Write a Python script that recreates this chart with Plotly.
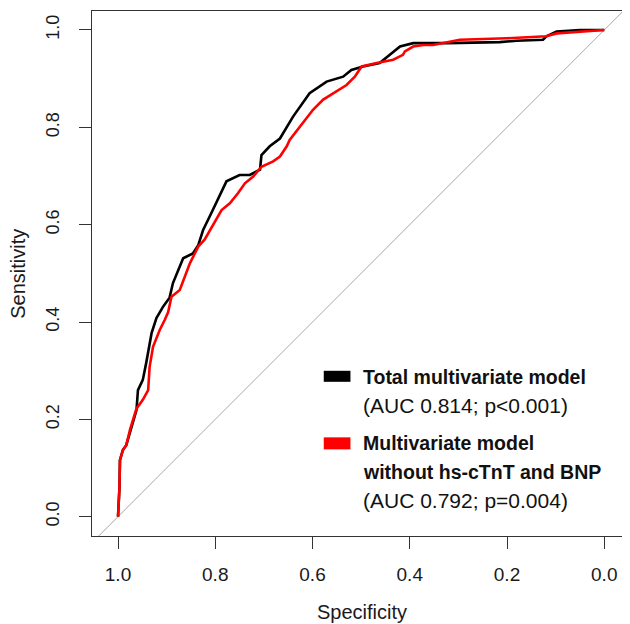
import plotly.graph_objects as go

# ROC curve data (specificity, sensitivity)
total_spec = [1.0, 0.997, 0.996, 0.990, 0.983, 0.975, 0.962, 0.959, 0.949, 0.942,
              0.931, 0.921, 0.907, 0.894, 0.887, 0.866, 0.846, 0.835, 0.825, 0.808,
              0.791, 0.777, 0.750, 0.729, 0.708, 0.705, 0.688, 0.667, 0.640, 0.606,
              0.571, 0.537, 0.520, 0.496, 0.462, 0.441, 0.420, 0.393, 0.324, 0.215,
              0.180, 0.126, 0.119, 0.098, 0.050, 0.0]
total_sens = [0.0, 0.060, 0.116, 0.137, 0.147, 0.175, 0.219, 0.260, 0.281, 0.316,
              0.377, 0.408, 0.432, 0.450, 0.480, 0.531, 0.541, 0.558, 0.589, 0.624,
              0.658, 0.689, 0.702, 0.702, 0.713, 0.743, 0.761, 0.777, 0.822, 0.870,
              0.894, 0.904, 0.918, 0.925, 0.932, 0.949, 0.966, 0.973, 0.973, 0.975,
              0.978, 0.980, 0.987, 0.997, 1.0, 1.0]

reduced_spec = [1.0, 0.997, 0.996, 0.990, 0.983, 0.975, 0.962, 0.955, 0.949, 0.938,
                0.935, 0.928, 0.914, 0.904, 0.897, 0.890, 0.873, 0.852, 0.835, 0.822,
                0.805, 0.787, 0.770, 0.753, 0.739, 0.722, 0.705, 0.681, 0.667, 0.653,
                0.647, 0.626, 0.599, 0.578, 0.551, 0.530, 0.513, 0.499, 0.468, 0.434,
                0.414, 0.410, 0.393, 0.372, 0.352, 0.317, 0.297, 0.201, 0.119, 0.098,
                0.050, 0.0]
reduced_sens = [0.0, 0.060, 0.116, 0.137, 0.147, 0.180, 0.222, 0.232, 0.240, 0.260,
                0.308, 0.349, 0.384, 0.404, 0.420, 0.452, 0.466, 0.521, 0.555, 0.569,
                0.600, 0.630, 0.644, 0.665, 0.685, 0.699, 0.719, 0.730, 0.740, 0.761,
                0.774, 0.802, 0.836, 0.857, 0.874, 0.887, 0.904, 0.925, 0.932, 0.939,
                0.949, 0.956, 0.966, 0.969, 0.969, 0.976, 0.980, 0.983, 0.987, 0.993,
                0.997, 1.0]

chance_x = [1.2, -0.2]
chance_y = [-0.2, 1.2]

tick_vals = [0.0, 0.2, 0.4, 0.6, 0.8, 1.0]
tick_text = ["0.0", "0.2", "0.4", "0.6", "0.8", "1.0"]

legend_lines = [
    ("<b>Total multivariate model</b>", 0.3033, 19.5),
    ("(AUC 0.814; p<0.001)", 0.2494, 21),
    ("<b>Multivariate model</b>", 0.1765, 19.5),
    ("<b>without hs-cTnT and BNP</b>", 0.1224, 19.5),
    ("(AUC 0.792; p=0.004)", 0.0685, 21),
]

fig = go.Figure()
fig.add_trace(go.Scatter(x=chance_x, y=chance_y, mode="lines",
                         line=dict(color="#a8a8a8", width=1), hoverinfo="skip"))
fig.add_trace(go.Scatter(x=total_spec, y=total_sens, mode="lines",
                         line=dict(color="black", width=2.6)))
fig.add_trace(go.Scatter(x=reduced_spec, y=reduced_sens, mode="lines",
                         line=dict(color="#ff0000", width=2.6)))

FONT = "Liberation Sans, Arial, sans-serif"

# the page body has an 8px default margin, so the figure is drawn 8px in
fig.update_layout(
    width=622, height=616,
    margin=dict(l=84, r=4, t=3, b=88, autoexpand=False),
    paper_bgcolor="white", plot_bgcolor="white",
    showlegend=False,
    font=dict(family=FONT, color="#222"),
    xaxis=dict(range=[1.0535, -0.0447], tickvals=tick_vals, ticktext=tick_text,
               showgrid=False, zeroline=False, showline=True, mirror=True,
               linecolor="#333", linewidth=1, ticks="outside", ticklen=12,
               tickcolor="#333", tickfont=dict(size=19, family=FONT, color="#1a1a1a"),
               ticklabelstandoff=9, automargin=False),
    yaxis=dict(range=[-0.0397, 1.039], tickvals=tick_vals, ticktext=tick_text,
               showgrid=False, zeroline=False, showline=True, mirror=True,
               linecolor="#333", linewidth=1, ticks="outside", ticklen=12,
               tickcolor="#333", tickangle=-90,
               tickfont=dict(size=18, family=FONT, color="#1a1a1a"),
               ticklabelstandoff=13, automargin=False),
)

annotations = [
    dict(text="Specificity", xref="paper", yref="paper", x=0.505, y=-0.144,
         showarrow=False, xanchor="center", yanchor="middle",
         font=dict(size=20, family=FONT, color="#1a1a1a")),
    dict(text="Sensitivity", xref="paper", yref="paper", x=-0.14, y=0.5,
         showarrow=False, xanchor="center", yanchor="middle", textangle=-90,
         font=dict(size=20, family=FONT, color="#1a1a1a")),
]
for txt, yp, sz in legend_lines:
    annotations.append(dict(text=txt, xref="paper", yref="paper", x=0.503, y=yp,
                            showarrow=False, xanchor="left", yanchor="middle",
                            font=dict(size=sz, family=FONT, color="#111")))
fig.update_layout(annotations=annotations)

fig.add_shape(type="rect", xref="paper", yref="paper", x0=0.434, x1=0.484,
              y0=0.2937, y1=0.3147, fillcolor="black", line=dict(width=0))
fig.add_shape(type="rect", xref="paper", yref="paper", x0=0.434, x1=0.484,
              y0=0.165, y1=0.1879, fillcolor="#ff0000", line=dict(width=0))

fig.write_html("out.html")
